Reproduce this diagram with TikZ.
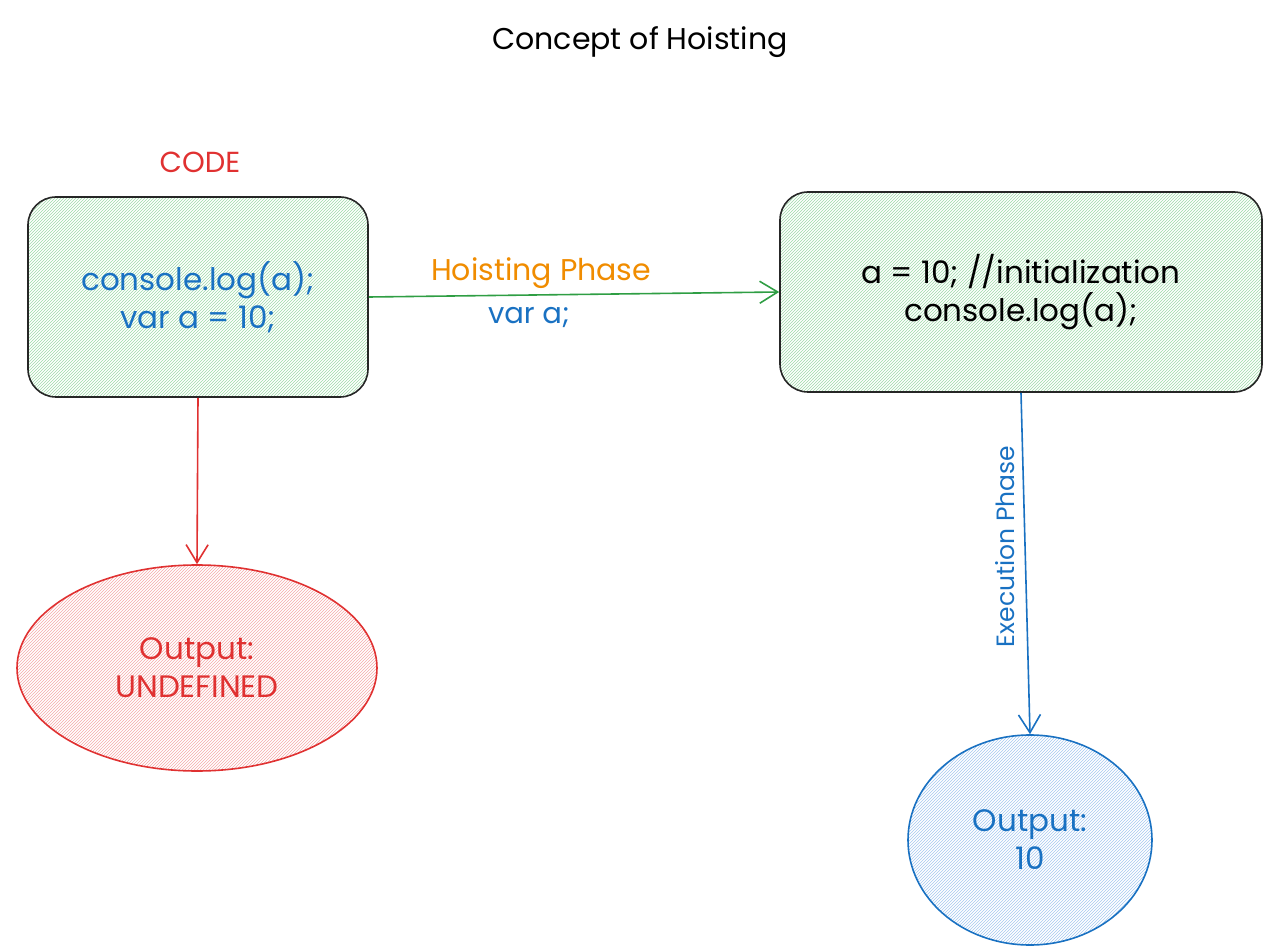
\documentclass[tikz,border=0pt]{standalone}
\usepackage{fontspec}
\setmainfont{Poppins}
\usetikzlibrary{arrows.meta,patterns,shapes.geometric}
\definecolor{cred}{HTML}{E03131}
\definecolor{cblue}{HTML}{1971C2}
\definecolor{cgreen}{HTML}{2F9E44}
\definecolor{corange}{HTML}{F08C00}
\definecolor{hgreen}{HTML}{9ED9A8}
\definecolor{hred}{HTML}{F4A9A9}
\definecolor{hblue}{HTML}{A5C8EE}
\begin{document}
\begin{tikzpicture}[x=1pt,y=-1pt,
  box/.style={draw=black!85,line width=1.6pt,rounded corners=28pt,pattern={north east lines},pattern color=hgreen,align=center,font=\fontsize{31}{38}\selectfont},
  ell/.style={ellipse,line width=1.6pt,align=center,font=\fontsize{31}{38}\selectfont},
  arr/.style={line width=1.6pt,-{Straight Barb[length=18pt,width=22pt]}}]
\useasboundingbox (0,0) rectangle (1280,949);
\node (title) at (640,42) {\fontsize{30}{34}\selectfont Concept of Hoisting};
\node[text=cred,font=\fontsize{29}{32}\selectfont] (code) at (200,162) {CODE};
\node[box,minimum width=340pt,minimum height=200pt,text=cblue] (left) at (198,297) {console.log(a);\\var a = 10;};
\node[box,minimum width=482pt,minimum height=200pt] (right) at (1021,292) {a = 10; //initialization\\console.log(a);};
\draw[arr,cgreen] (left.east) -- (right.west) node[pos=0.42,above=2pt,text=corange,font=\fontsize{30}{32}\selectfont]{Hoisting Phase} node[pos=0.39,below=8pt,text=cblue,font=\fontsize{29}{32}\selectfont]{var a;};
\node[ell,draw=cred,pattern={north east lines},pattern color=hred,text=cred,minimum width=360pt,minimum height=206pt] (out1) at (197,668) {Output:\\UNDEFINED};
\node[ell,draw=cblue,pattern={north east lines},pattern color=hblue,text=cblue,minimum width=244pt,minimum height=210pt] (out2) at (1030,840) {Output:\\10};
\draw[arr,cred] (left.south) -- (out1.north);
\draw[arr,cblue] (right.south) -- (out2.north) node[pos=0.45,left=6pt,rotate=90,anchor=south,text=cblue,font=\fontsize{25}{28}\selectfont]{Execution Phase};
\end{tikzpicture}
\end{document}
